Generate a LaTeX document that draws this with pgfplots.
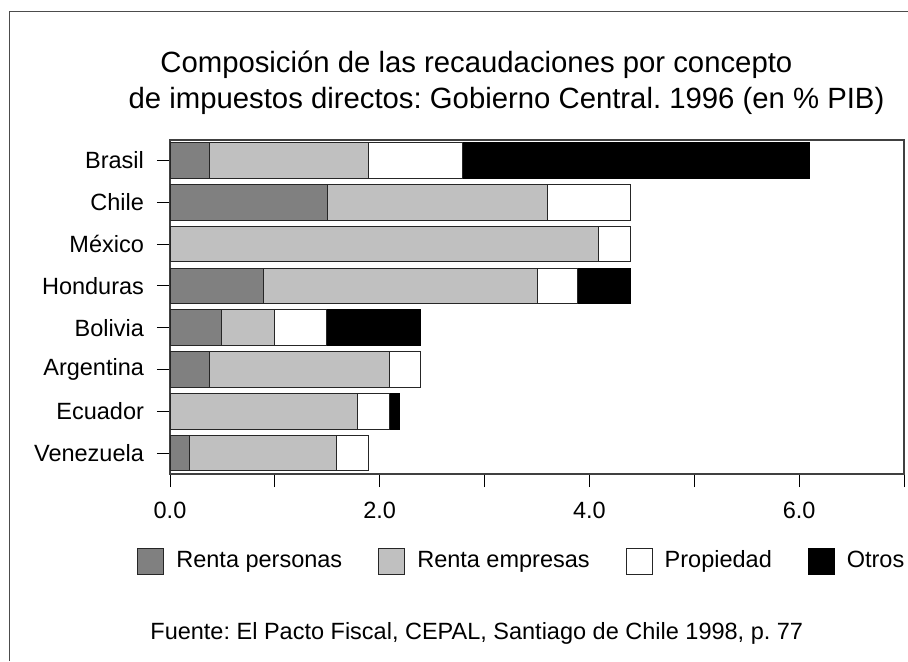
\documentclass[border=0pt]{standalone}
\usepackage{pgfplots}
\pgfplotsset{compat=1.18}
\usepackage{fontspec}
\setmainfont{Liberation Sans}
\definecolor{cPers}{RGB}{128,128,128}
\definecolor{cEmp}{RGB}{192,192,192}
\begin{document}
\frenchspacing
\begin{tikzpicture}[x=0.5pt,y=-0.5pt]
\useasboundingbox (0,0) rectangle (908,661);
\draw[black!70, line width=0.6pt] (9.5,661) -- (9.5,11.5) -- (908,11.5);
\node[anchor=base west, inner sep=0pt, font=\fontsize{14.65}{17}\selectfont] at (160,72.7) {Composición de las recaudaciones por concepto};
\node[anchor=base west, inner sep=0pt, font=\fontsize{14.65}{17}\selectfont] at (128.3,108) {de impuestos directos: Gobierno Central. 1996 (en \% PIB)};
\node[anchor=base west, inner sep=0pt, font=\fontsize{11.75}{14}\selectfont] at (150,639) {Fuente: El Pacto Fiscal, CEPAL, Santiago de Chile 1998, p. 77};
\begin{axis}[
  at={(85pt,-237pt)}, anchor=south west,
  scale only axis, width=367pt, height=167.25pt,
  xbar stacked, bar width=0.85,
  xmin=0, xmax=7, ymin=-0.5, ymax=7.5,
  xtick={0,1,2,3,4,5,6,7},
  xticklabels={0.0,,2.0,,4.0,,6.0,},
  ytick={0,1,2,3,4,5,6,7},
  yticklabels={Venezuela,Ecuador,Argentina,Bolivia,Honduras,México,Chile,Brasil},
  tick align=outside, xtick pos=left, ytick pos=left,
  major tick length=6.5pt,
  tick style={black, line width=0.5pt},
  axis line style={black!75, line width=1pt},
  font=\fontsize{11.75}{14}\selectfont,
  ticklabel style={font=\fontsize{11.75}{14}\selectfont},
  xticklabel style={yshift=-4pt},
  yticklabel style={xshift=-3pt},
  /pgf/number format/assume math mode=true,
  legend columns=4,
  legend image code/.code={\draw[#1] (0pt,-6.5pt) rectangle (13pt,6.5pt);},
  legend style={draw=none, fill=none, at={(-0.045,-0.263)}, anchor=west, inner sep=0pt,
    font=\fontsize{11.75}{14}\selectfont,
    nodes={text height=8.6pt, text depth=2.6pt, inner sep=0pt},
    /tikz/every odd column/.append style={column sep=6pt},
    /tikz/every even column/.append style={column sep=18pt}},
  legend cell align=left,
  every axis plot/.append style={draw=black!85, line width=0.5pt},
]
\addplot[fill=cPers, draw=black!85] coordinates {(0.19,0) (0,1) (0.38,2) (0.49,3) (0.89,4) (0,5) (1.50,6) (0.38,7)};
\addplot[fill=cEmp, draw=black!85] coordinates {(1.40,0) (1.79,1) (1.71,2) (0.51,3) (2.61,4) (4.09,5) (2.10,6) (1.51,7)};
\addplot[fill=white, draw=black!85] coordinates {(0.30,0) (0.30,1) (0.30,2) (0.49,3) (0.39,4) (0.30,5) (0.79,6) (0.90,7)};
\addplot[fill=black, draw=black] coordinates {(0,0) (0.10,1) (0,2) (0.90,3) (0.50,4) (0,5) (0,6) (3.31,7)};
\legend{Renta personas,Renta empresas,Propiedad,Otros}
\end{axis}
\end{tikzpicture}
\end{document}
